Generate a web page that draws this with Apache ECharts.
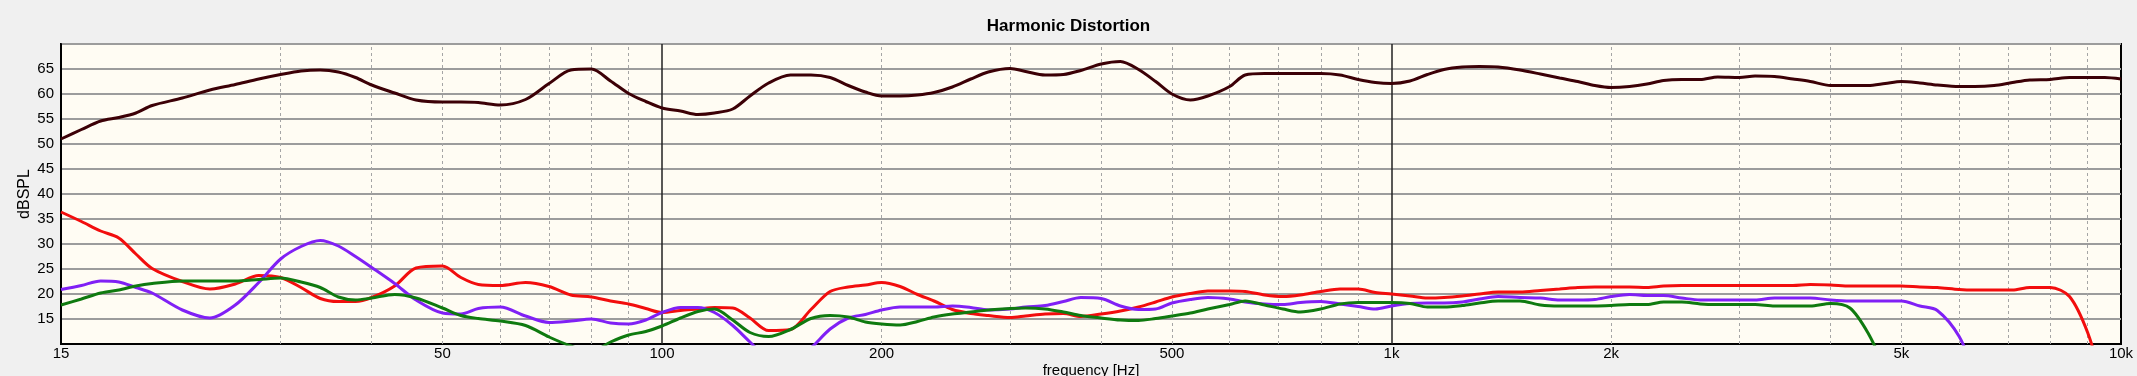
<!DOCTYPE html>
<html><head><meta charset="utf-8">
<script src="https://cdn.jsdelivr.net/npm/echarts@6/dist/echarts.min.js"></script>
<style>html,body{margin:0;padding:0;background:#f0f0f0;}#c{width:2137px;height:376px;}</style>
</head><body><div id="c"></div><script>
const freqs = [
 15,16,17,18,19,20,22,24,26,28,
 30,32,34,36,38,40,43,46,50,53,
 56,60,65,70,75,80,85,90,95,100,
 106,112,118,125,132,140,150,160,170,180,
 190,200,212,224,236,250,265,280,300,315,
 335,355,375,400,425,450,475,500,530,560,
 600,630,670,710,750,800,850,900,950,1000,
 1060,1120,1180,1250,1320,1400,1500,1600,1700,1800,
 1900,2000,2120,2240,2360,2500,2650,2800,3000,3150,
 3350,3550,3750,4000,4250,4500,4750,5000,5300,5600,
 6000,6300,6700,7100,7500,8000,8500,9000,9500,10000];
const fundamental = [
 51.0,52.9,54.6,55.3,56.2,57.7,59.2,60.8,61.9,63.0,
 63.9,64.6,64.8,64.4,63.3,61.8,60.2,58.8,58.4,58.4,
 58.3,57.8,58.9,62.1,64.8,65.0,62.6,60.1,58.5,57.2,
 56.6,55.9,56.2,57.0,59.6,62.2,63.8,63.8,63.3,61.7,
 60.4,59.6,59.6,59.8,60.3,61.4,63.0,64.4,65.1,64.5,
 63.8,63.9,64.7,66.0,66.5,64.9,62.5,60.0,58.8,59.6,
 61.5,63.8,64.1,64.1,64.1,64.1,63.8,62.9,62.3,62.1,
 62.6,63.9,64.9,65.4,65.5,65.4,64.8,64.0,63.2,62.5,
 61.7,61.3,61.5,62.0,62.7,62.9,62.9,63.4,63.3,63.6,
 63.5,63.0,62.5,61.7,61.7,61.7,62.1,62.5,62.2,61.8,
 61.5,61.5,61.7,62.3,62.8,62.9,63.3,63.3,63.3,63.0];
const harmonic2 = [
 36.4,34.5,32.6,31.2,28.0,25.1,22.5,21.0,22.0,23.7,
 23.3,21.3,19.1,18.5,18.5,19.3,21.6,25.2,25.6,23.3,
 21.9,21.7,22.3,21.5,19.8,19.4,18.6,18.0,17.1,16.3,
 16.7,17.0,17.3,17.2,15.2,12.7,12.9,16.9,20.5,21.4,
 21.8,22.3,21.5,19.9,18.6,16.9,16.1,15.7,15.3,15.6,
 16.0,16.1,15.5,16.0,16.6,17.4,18.4,19.4,20.1,20.6,
 20.6,20.5,19.8,19.5,19.8,20.5,21.0,21.0,20.3,20.0,
 19.6,19.2,19.3,19.6,20.0,20.4,20.4,20.7,21.0,21.3,
 21.4,21.4,21.4,21.3,21.6,21.7,21.7,21.7,21.7,21.7,
 21.7,21.7,21.9,21.8,21.6,21.6,21.6,21.6,21.4,21.3,
 20.9,20.8,20.8,20.8,21.3,21.3,19.5,12.3,1,null];
const harmonic3 = [
 20.9,21.7,22.6,22.4,21.3,20.2,16.8,15.2,17.8,22.3,
 27.0,29.5,30.7,29.6,27.5,25.3,22.1,18.8,16.2,16.0,
 17.1,17.4,15.6,14.3,14.6,15.0,14.2,14.0,14.8,16.3,
 17.3,17.3,16.3,13.7,10.4,7,6,9.2,13.0,15.2,
 15.9,16.8,17.4,17.4,17.4,17.6,17.3,16.8,17.0,17.4,
 17.7,18.5,19.3,19.1,17.6,16.9,17.0,18.2,18.9,19.3,
 19.0,18.4,18.0,17.9,18.3,18.5,18.0,17.5,17.0,17.6,
 18.1,18.2,18.2,18.4,19.0,19.5,19.3,19.2,18.8,18.8,
 18.9,19.5,19.9,19.7,19.7,19.2,18.8,18.8,18.8,18.8,
 19.2,19.2,19.2,18.8,18.6,18.6,18.6,18.6,17.6,16.7,
 11.5,4,null,null,null,null,null,null,null,null];
const harmonic4 = [
 17.8,19.0,20.2,20.8,21.6,22.1,22.6,22.6,22.6,22.9,
 23.2,22.4,21.3,19.4,18.8,19.2,19.9,19.2,17.2,15.7,
 15.1,14.6,13.7,11.4,9.6,8.5,10.4,11.8,12.5,13.6,
 15.2,16.5,17.0,14.8,12.3,11.5,12.9,15.1,15.7,15.4,
 14.4,14.0,13.8,14.5,15.4,16.0,16.4,16.8,17.1,17.2,
 17.0,16.4,15.7,15.2,14.8,14.7,15.1,15.6,16.2,17.0,
 17.9,18.6,17.8,17.0,16.4,17.0,18.0,18.3,18.3,18.3,
 18.1,17.4,17.4,17.7,18.2,18.6,18.6,17.8,17.6,17.6,
 17.6,17.7,17.9,17.9,18.4,18.4,18.0,17.9,17.9,17.9,
 17.6,17.6,17.6,18.1,17.2,12.2,5,null,null,null,
 null,null,null,null,null,null,null,null,null,null];
const xTickLabels = [15,50,100,200,500,1000,2000,5000,10000];
const minorGrid = [30,40,50,60,70,80,90,200,300,400,500,600,700,800,900,2000,3000,4000,5000,6000,7000,8000,9000];
const decadeGrid = [100,1000];
const yHiddenLabels = [10,70];

const FONT = "'Liberation Sans', Arial, sans-serif";
const pairs = arr => freqs.map((f, i) => [f, arr[i]]);
const fmtFreq = v => { const f = Math.round(Math.pow(10, v)); return f >= 1000 ? (f / 1000) + 'k' : String(f); };

const lineSeries = (name, arr, color, z) => ({
  type: 'line', name, xAxisIndex: 0, yAxisIndex: 0, data: pairs(arr),
  symbol: 'none', showSymbol: false, smooth: 0.3, connectNulls: false,
  lineStyle: { color, width: 3 }, itemStyle: { color }, z, silent: true
});

const chart = echarts.init(document.getElementById('c'), null, { renderer: 'canvas' });
chart.setOption({
  backgroundColor: '#f0f0f0',
  animation: false,
  title: { text: 'Harmonic Distortion', left: 'center', top: 13,
    textStyle: { fontSize: 17, fontWeight: 'bold', color: '#000', fontFamily: FONT } },
  grid: { left: 61, right: 16, top: 44, bottom: 32, show: true, outerBoundsMode: 'none', containLabel: false,
    backgroundColor: '#fffcf3', borderColor: '#000', borderWidth: 2 },
  xAxis: [
    { type: 'log', logBase: 10, min: 15, max: 10000, position: 'bottom',
      axisLine: { show: true, lineStyle: { color: '#000', width: 2 } },
      axisTick: { show: false }, axisLabel: { show: false }, splitLine: { show: false } },
    { type: 'value', min: Math.log10(15), max: 4, position: 'bottom',
      axisLine: { show: false }, axisTick: { show: false }, splitLine: { show: false },
      axisLabel: { customValues: xTickLabels.map(Math.log10), formatter: fmtFreq,
        margin: 2, fontSize: 15, color: '#000', fontFamily: FONT },
      name: 'frequency [Hz]', nameLocation: 'middle', nameGap: 19, nameMoveOverlap: false,
      nameTextStyle: { fontSize: 15, color: '#000', fontFamily: FONT } }
  ],
  yAxis: { type: 'value', min: 10, max: 70, interval: 5,
    axisLine: { show: true, lineStyle: { color: '#000', width: 2 } },
    axisTick: { show: false },
    axisLabel: { formatter: v => yHiddenLabels.includes(v) ? '' : String(v),
      fontSize: 15, margin: 7, color: '#000', fontFamily: FONT },
    splitLine: { show: true, lineStyle: { color: '#9c9c9c', width: 2 } },
    name: 'dBSPL', nameLocation: 'middle', nameGap: 28, nameRotate: 90, nameMoveOverlap: false,
    nameTextStyle: { fontSize: 16, color: '#000', fontFamily: FONT } },
  series: [
    { type: 'line', xAxisIndex: 0, data: [[15, null]], symbol: 'none', silent: true, z: 1,
      markLine: { symbol: 'none', silent: true, animation: false, z: 1,
        label: { show: false }, emphasis: { disabled: true },
        data: [
          ...minorGrid.map(f => ({ xAxis: f, lineStyle: { color: '#a5a5a5', type: [3, 3], width: 1 } })),
          ...decadeGrid.map(f => ({ xAxis: f, lineStyle: { color: '#222', type: 'solid', width: 1.5 } }))
        ] } },
    lineSeries('2nd', harmonic2, '#f20d0d', 3),
    lineSeries('3rd', harmonic3, '#8020f5', 4),
    lineSeries('4th', harmonic4, '#0f7a0f', 5),
    lineSeries('Fundamental', fundamental, '#3c0006', 6)
  ]
});
</script></body></html>
